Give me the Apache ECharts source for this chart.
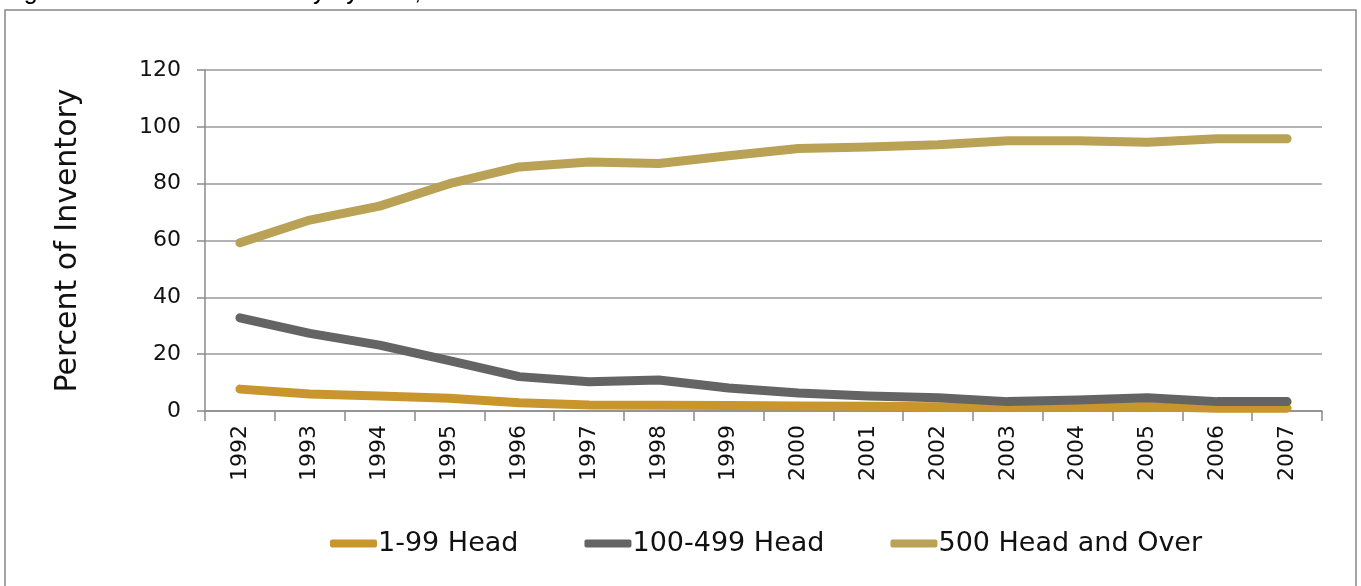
<!DOCTYPE html>
<html>
<head>
<meta charset="utf-8">
<script src="https://cdn.jsdelivr.net/npm/echarts@6/dist/echarts.min.js"></script>
<style>
  html, body { margin: 0; padding: 0; background: #fff; }
  #chart { width: 1361px; height: 586px; }
</style>
</head>
<body>
<div id="chart"></div>
<script>
// data
const years = ['1992', '1993', '1994', '1995', '1996', '1997', '1998', '1999',
  '2000', '2001', '2002', '2003', '2004', '2005', '2006', '2007'];
const small = [7.7, 6.0, 5.3, 4.5, 2.9, 2.1, 2.0, 1.9, 1.8, 1.7, 1.5, 1.3, 1.2, 1.6, 1.0, 1.0];
const medium = [32.8, 27.3, 23.2, 17.7, 12.1, 10.3, 10.9, 8.1, 6.3, 5.3, 4.7, 3.3, 3.9, 4.7, 3.3, 3.3];
const large = [59.2, 67.2, 72.1, 80.0, 85.9, 87.6, 87.1, 89.8, 92.4, 92.9, 93.7, 95.1, 95.1, 94.6, 95.8, 95.8];
const seriesNames = ['1-99 Head', '100-499 Head', '500 Head and Over'];
const colors = ['#C9962E', '#646464', '#B9A155'];

const font = 'DejaVu Sans';
const chart = echarts.init(document.getElementById('chart'));

const lineSeries = (name, data, color) => ({
  name: name,
  type: 'line',
  data: data,
  showSymbol: false,
  symbol: 'none',
  color: color,
  lineStyle: { width: 9, color: color, cap: 'round', join: 'round' },
  emphasis: { disabled: true },
  animation: false
});

chart.setOption({
  animation: false,
  graphic: [
    {
      type: 'rect',
      shape: { x: 5, y: 10, width: 1351, height: 600 },
      style: { fill: 'none', stroke: '#868686', lineWidth: 1.5 }
    },
    {
      type: 'text',
      left: 3,
      top: -20,
      style: {
        text: 'Figure 3 Percent of Inventory by Size, 1992-2007',
        font: '25px "Liberation Sans"',
        fill: '#000'
      }
    }
  ],
  grid: { left: 205, right: 39, top: 70, height: 341, containLabel: false },
  legend: {
    data: seriesNames,
    top: 525,
    left: 325,
    icon: 'roundRect',
    itemWidth: 47,
    itemHeight: 8,
    itemGap: 66,
    textStyle: { fontFamily: font, fontSize: 27, color: '#111', padding: [0, 0, 0, -4] }
  },
  xAxis: {
    type: 'category',
    data: years,
    boundaryGap: true,
    axisLine: { lineStyle: { color: '#8a8a8a', width: 1.5 } },
    axisTick: { show: true, length: 10, lineStyle: { color: '#8a8a8a', width: 1.5 } },
    axisLabel: { rotate: 90, margin: 14, fontFamily: font, fontSize: 22, color: '#111' }
  },
  yAxis: {
    type: 'value',
    min: 0,
    max: 120,
    interval: 20,
    name: 'Percent of Inventory',
    nameLocation: 'middle',
    nameRotate: 90,
    nameGap: 122,
    nameTextStyle: { fontFamily: font, fontSize: 30, color: '#111' },
    axisLine: { show: true, lineStyle: { color: '#8a8a8a', width: 1.5 } },
    axisTick: { show: true, length: 8, lineStyle: { color: '#8a8a8a', width: 1.5 } },
    axisLabel: { margin: 24, fontFamily: font, fontSize: 22, color: '#111' },
    splitLine: { lineStyle: { color: '#9a9a9a', width: 1.5 } }
  },
  series: [
    lineSeries(seriesNames[0], small, colors[0]),
    lineSeries(seriesNames[1], medium, colors[1]),
    lineSeries(seriesNames[2], large, colors[2])
  ]
});
</script>
</body>
</html>
